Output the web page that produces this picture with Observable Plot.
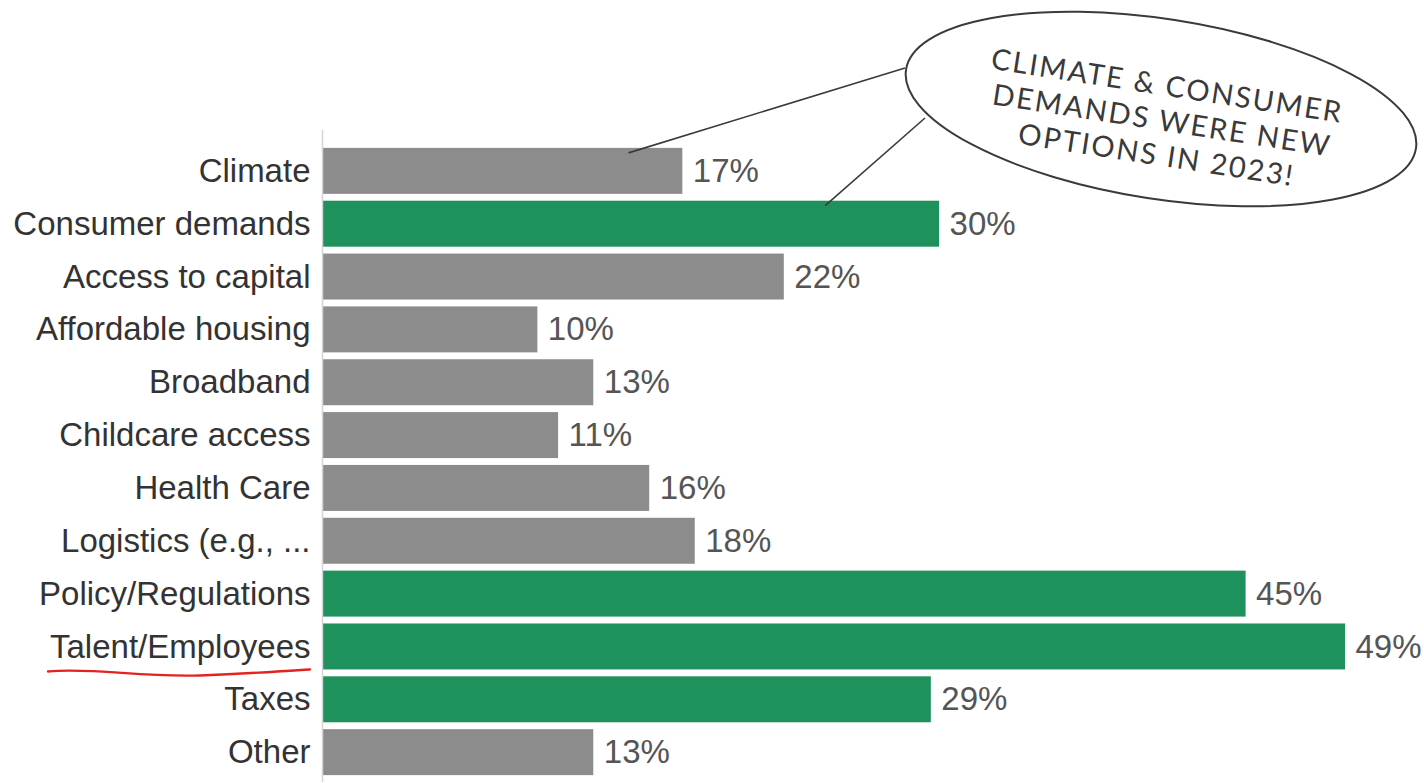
<!DOCTYPE html>
<html>
<head>
<meta charset="utf-8">
<script src="https://cdn.jsdelivr.net/npm/d3@7"></script>
<script src="https://cdn.jsdelivr.net/npm/@observablehq/plot@0.6"></script>
<style>
  html, body { margin: 0; padding: 0; background: #fff; }
  #chart svg { display: block; }
</style>
</head>
<body>
<div id="chart"></div>
<script>
const categories = ["Climate", "Consumer demands", "Access to capital", "Affordable housing", "Broadband", "Childcare access", "Health Care", "Logistics (e.g., ...", "Policy/Regulations", "Talent/Employees", "Taxes", "Other"];
const values = [17.4, 29.8, 22.3, 10.4, 13.1, 11.4, 15.8, 18.0, 44.6, 49.4, 29.4, 13.1];
const highlighted = ["Consumer demands", "Policy/Regulations", "Talent/Employees", "Taxes"];
const calloutLines = ["CLIMATE & CONSUMER", "DEMANDS WERE NEW", "OPTIONS IN 2023!"];
const pointerTargets = [
  { category: "Climate", value: 14.8 },
  { category: "Consumer demands", value: 24.3 }
];
const underlined = "Talent/Employees";

const data = categories.map((c, i) => ({
  category: c,
  value: values[i],
  group: highlighted.includes(c) ? "highlight" : "other"
}));

const plot = Plot.plot({
  width: 1424,
  height: 783,
  marginLeft: 322,
  marginRight: 79,
  marginTop: 130,
  marginBottom: 1,
  style: { fontFamily: "'Liberation Sans', Arial, sans-serif", background: "#fff" },
  x: { domain: [0, 49.4], axis: null },
  y: { domain: categories, padding: 0.13, insetTop: 11, round: false, axis: null },
  color: { domain: ["other", "highlight"], range: ["#8c8c8c", "#1f915c"] },
  marks: [
    Plot.barX(data, { x: "value", y: "category", fill: "group" }),
    Plot.ruleX([0], { stroke: "#d4d4d4", strokeWidth: 1.5 }),
    Plot.text(data, {
      x: "value", y: "category",
      text: d => Math.round(d.value) + "%",
      dx: 10, textAnchor: "start", fill: "#555", fontSize: 33
    }),
    Plot.axisY({ tickSize: 0, tickPadding: 12, fontSize: 33, color: "#333", label: null })
  ]
});

document.getElementById("chart").appendChild(plot);

// Annotation overlay
const svg = d3.select(plot);
const xs = plot.scale("x");
const ys = plot.scale("y");
const bw = ys.bandwidth;
const g = svg.append("g").attr("class", "annotation");

// pointer lines (from callout ellipse to bars)
const ellipseAnchors = [[905, 68], [925, 118]];
pointerTargets.forEach((t, i) => {
  const tx = xs.apply(t.value);
  const ty = ys.apply(t.category) + 5;
  g.append("line")
    .attr("x1", ellipseAnchors[i][0]).attr("y1", ellipseAnchors[i][1])
    .attr("x2", tx).attr("y2", ty)
    .attr("stroke", "#3a3a3a").attr("stroke-width", 1.6);
});

// callout ellipse
const cx = 1161, cy = 109, ang = 8.8;
g.append("ellipse")
  .attr("cx", cx).attr("cy", cy).attr("rx", 258).attr("ry", 90)
  .attr("transform", `rotate(${ang},${cx},${cy})`)
  .attr("fill", "#fff").attr("stroke", "#3a3a3a").attr("stroke-width", 2);

const tg = g.append("g").attr("transform", `translate(1162,120) rotate(${ang})`);
tg.selectAll("text").data(calloutLines).join("text")
  .attr("x", 0).attr("y", (d, i) => (i - 1) * 35)
  .attr("dy", "0.36em")
  .attr("text-anchor", "middle")
  .attr("font-family", "Lato, 'Open Sans', sans-serif")
  .attr("font-size", 29)
  .attr("letter-spacing", 2)
  .attr("fill", "#3a3a3a")
  .text(d => d);

// red hand-drawn underline below highlighted label
const uy = ys.apply(underlined) + bw + 1;
g.append("path")
  .attr("d", `M48,${uy + 1} C95,${uy - 3} 140,${uy + 7} 200,${uy + 5} S285,${uy} 310,${uy - 1}`)
  .attr("fill", "none").attr("stroke", "#e3231f").attr("stroke-width", 2.4)
  .attr("stroke-linecap", "round");
</script>
</body>
</html>
